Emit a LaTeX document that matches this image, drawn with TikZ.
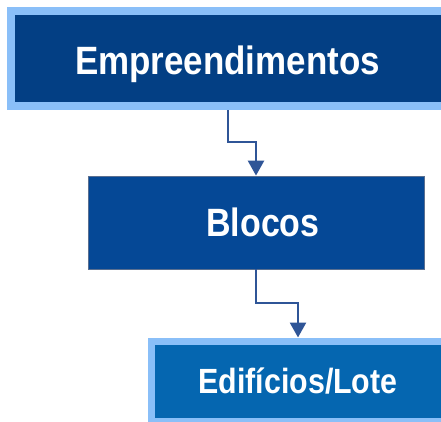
\documentclass[tikz,border=0pt]{standalone}
\usepackage{fontspec}
\setmainfont{Liberation Sans}
\usetikzlibrary{arrows.meta}
\definecolor{lightb}{HTML}{8ABFF8}
\definecolor{darkA}{HTML}{033F84}
\definecolor{darkB}{HTML}{054896}
\definecolor{darkC}{HTML}{0566B0}
\definecolor{arrowc}{HTML}{2F5597}
\definecolor{edgeB}{HTML}{5A6F90}
\tikzset{
  boxA/.style={draw=lightb, fill=darkA, line width=8pt, rectangle, inner sep=0pt},
  boxB/.style={draw=edgeB, fill=darkB, line width=0.8pt, rectangle, inner sep=0pt},
  boxC/.style={draw=lightb, fill=darkC, line width=7pt, rectangle, inner sep=0pt},
  lbl/.style={text=white, anchor=base, inner sep=0pt, font=\bfseries},
  conn/.style={draw=arrowc, line width=2.6pt, -{Triangle[width=16pt,length=15pt]}}
}
\begin{document}
\begin{tikzpicture}[x=1pt,y=-1pt]
\useasboundingbox (0,0) rectangle (441,422);
\node[boxA, minimum width=434pt, minimum height=95.5pt] (b1) at (228,58.75) {};
\node[boxB, minimum width=336pt, minimum height=93pt] (b2) at (256,222.5) {};
\node[boxC, minimum width=293pt, minimum height=80.5pt] (b3) at (298,381.25) {};
\node[lbl] (t1) at (227.5,75) {\scalebox{0.885}[1]{\fontsize{39.5}{39.5}\selectfont Empreendimentos}};
\node[lbl] (t2) at (263,236.5) {\scalebox{0.86}[1]{\fontsize{39.5}{39.5}\selectfont Blocos}};
\node[lbl] (t3) at (298,393) {\scalebox{0.867}[1]{\fontsize{35}{35}\selectfont Edifícios/Lote}};
\coordinate (k1) at (228,142);
\coordinate (k2) at (256,303);
\draw[conn] (b1.south) -- (k1) -| (b2.north);
\draw[conn] (b2.south) -- (k2) -| (b3.north);
\end{tikzpicture}
\end{document}
